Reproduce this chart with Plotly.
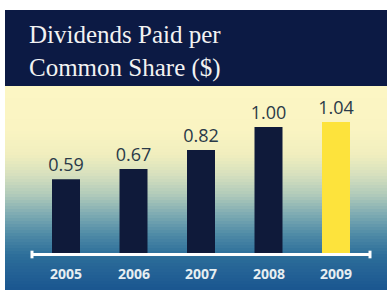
import plotly.graph_objects as go

# ---- data ----
years = ["2005", "2006", "2007", "2008", "2009"]
dividends = [0.59, 0.67, 0.82, 1.00, 1.04]
value_labels = ["0.59", "0.67", "0.82", "1.00", "1.04"]
title_lines = ["Dividends Paid per", "Common Share ($)"]

# ---- style ----
W, H = 387, 292
navy = "#0c1a44"
bar_navy = "#0f1a3a"
highlight = "#fde33c"
bar_colors = [bar_navy] * 4 + [highlight]

def py(p):  # pixel-from-top -> paper y
    return 1 - p / H

def px(p):
    return p / W

shapes = []
# panel header
shapes.append(dict(type="rect", xref="paper", yref="paper", x0=px(5), x1=1.0,
                   y0=py(86), y1=py(10), fillcolor=navy, line=dict(width=0), layer="below"))
# gradient background (style bands)
stops = [(86, (252, 246, 196)), (130, (250, 244, 194)), (155, (240, 238, 190)),
         (175, (214, 224, 190)), (195, (176, 202, 186)), (215, (124, 170, 178)),
         (235, (78, 138, 166)), (255, (45, 110, 154)), (290, (26, 86, 144))]

def col_at(p):
    for (p0, c0), (p1, c1) in zip(stops[:-1], stops[1:]):
        if p0 <= p <= p1:
            t = (p - p0) / (p1 - p0)
            return "rgb(%d,%d,%d)" % tuple(round(a + (b - a) * t) for a, b in zip(c0, c1))
    return "rgb(%d,%d,%d)" % stops[-1][1]

step = 3
p = 86
while p < 290:
    shapes.append(dict(type="rect", xref="paper", yref="paper", x0=px(5), x1=1.0,
                       y0=py(min(p + step + 0.5, 290)), y1=py(p), fillcolor=col_at(p + step / 2),
                       line=dict(width=0), layer="below"))
    p += step

# axis baseline with end caps
shapes.append(dict(type="line", xref="paper", yref="y", x0=px(32), x1=px(370), y0=0, y1=0,
                   line=dict(color="white", width=3)))
for xe in (32, 370):
    shapes.append(dict(type="line", xref="paper", yref="y", x0=px(xe), x1=px(xe),
                       y0=-0.03, y1=0.03, line=dict(color="white", width=3)))

fig = go.Figure(go.Bar(
    x=years, y=dividends, marker=dict(color=bar_colors, line=dict(width=0)),
    text=value_labels, textposition="outside", cliponaxis=False, constraintext="none",
    textfont=dict(family="Open Sans", size=18, color="#2a3a48"),
    hoverinfo="skip",
))

annotations = []
for i, yr in enumerate(years):
    annotations.append(dict(x=i, y=0, xref="x", yref="y", text=yr, showarrow=False,
                            yanchor="top", yshift=-7,
                            font=dict(family="Open Sans", size=14, color="#e6eef2", weight="bold")))
annotations.append(dict(x=px(27), y=py(51), xref="paper", yref="paper", xanchor="left",
                        yanchor="middle", align="left", showarrow=False,
                        text="<br>".join(title_lines),
                        font=dict(family="Liberation Serif", size=25, color="#f2f2f2")))

scale = 127.5
base = 254.5
fig.update_layout(
    width=W, height=H, margin=dict(l=0, r=0, t=0, b=0),
    paper_bgcolor="white", plot_bgcolor="rgba(0,0,0,0)",
    bargap=1 - 28 / 67.5, showlegend=False,
    shapes=shapes, annotations=annotations,
    xaxis=dict(type="category", range=[-66 / 67.5, (W - 66) / 67.5], showticklabels=False,
               showgrid=False, zeroline=False, showline=False, ticks=""),
    yaxis=dict(range=[-(H - base) / scale, base / scale], showticklabels=False,
               showgrid=False, zeroline=False, showline=False, ticks=""),
)

fig.write_html("out.html", config={"displayModeBar": False, "staticPlot": True},
               post_script="document.body.style.margin='0';document.body.style.overflow='hidden';")
